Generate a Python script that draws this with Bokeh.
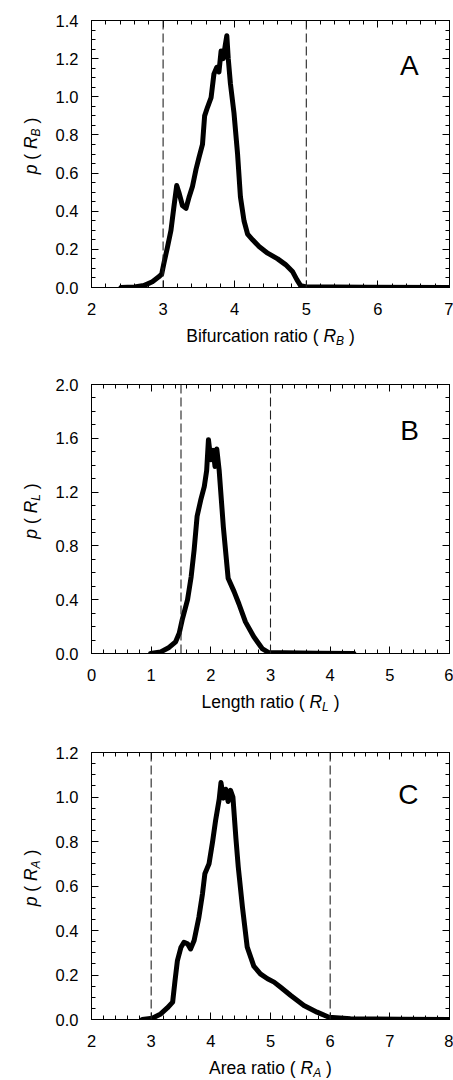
import numpy as np
from bokeh.plotting import figure
from bokeh.layouts import column, row
from bokeh.models import (Range1d, LinearAxis, FixedTicker, PrintfTickFormatter,
                          CustomJSTickFormatter, Span, Label)
from bokeh.core.properties import value
from bokeh.embed import file_html
from bokeh.resources import INLINE

FONT = "Liberation Sans"

# ---------------- data ----------------
# Panel A: bifurcation ratio
rb_x = [2.41, 2.60, 2.73, 2.85, 2.94, 2.98, 3.01, 3.06, 3.11, 3.15, 3.19, 3.22, 3.27, 3.32,
        3.36, 3.41, 3.46, 3.50, 3.55, 3.58, 3.62, 3.67, 3.71, 3.75, 3.78, 3.81, 3.84, 3.87,
        3.89, 3.91, 3.94, 3.99, 4.04, 4.08, 4.13, 4.18, 4.25, 4.34, 4.46, 4.60, 4.71, 4.81,
        4.87, 4.92, 4.99, 5.39, 5.85, 7.00]
rb_p = [0.0, 0.003, 0.01, 0.03, 0.056, 0.07, 0.125, 0.21, 0.30, 0.42, 0.535, 0.50, 0.43, 0.415,
        0.47, 0.53, 0.62, 0.68, 0.75, 0.90, 0.945, 0.995, 1.12, 1.155, 1.13, 1.24, 1.20, 1.275,
        1.32, 1.20, 1.07, 0.915, 0.70, 0.475, 0.35, 0.28, 0.25, 0.215, 0.18, 0.15, 0.12, 0.082,
        0.04, 0.01, 0.004, 0.003, 0.0015, 0.0]
rb_bounds = [3, 5]
rb_xticks = [2, 3, 4, 5, 6, 7]
rb_yticks = [0.0, 0.2, 0.4, 0.6, 0.8, 1.0, 1.2, 1.4]

# Panel B: length ratio
rl_x = [0.99, 1.16, 1.30, 1.41, 1.47, 1.52, 1.61, 1.67, 1.72, 1.77, 1.83, 1.89, 1.93, 1.96,
        2.00, 2.04, 2.07, 2.10, 2.14, 2.21, 2.29, 2.39, 2.47, 2.58, 2.72, 2.86, 2.97, 3.23,
        3.78, 4.40]
rl_p = [0.0, 0.012, 0.045, 0.087, 0.15, 0.25, 0.40, 0.57, 0.77, 1.02, 1.14, 1.24, 1.36, 1.59,
        1.44, 1.51, 1.39, 1.52, 1.36, 0.94, 0.56, 0.46, 0.37, 0.235, 0.124, 0.037, 0.007, 0.005,
        0.002, 0.0]
rl_bounds = [1.5, 3]
rl_xticks = [0, 1, 2, 3, 4, 5, 6]
rl_yticks = [0.0, 0.4, 0.8, 1.2, 1.6, 2.0]

# Panel C: area ratio
ra_x = [2.85, 3.02, 3.16, 3.27, 3.36, 3.40, 3.44, 3.50, 3.55, 3.61, 3.66, 3.72, 3.80, 3.86,
        3.90, 3.97, 4.03, 4.08, 4.14, 4.17, 4.21, 4.25, 4.29, 4.33, 4.37, 4.42, 4.46, 4.53,
        4.61, 4.72, 4.83, 4.95, 5.06, 5.17, 5.34, 5.56, 5.78, 5.98, 6.34, 7.18, 8.00]
ra_p = [0.0, 0.006, 0.025, 0.052, 0.078, 0.175, 0.265, 0.325, 0.347, 0.34, 0.317, 0.355, 0.46,
        0.565, 0.655, 0.70, 0.80, 0.895, 0.99, 1.065, 0.995, 1.035, 0.98, 1.03, 1.0, 0.815,
        0.685, 0.505, 0.325, 0.24, 0.205, 0.183, 0.168, 0.145, 0.108, 0.063, 0.033, 0.01,
        0.003, 0.0015, 0.0]
ra_bounds = [3, 6]
ra_xticks = [2, 3, 4, 5, 6, 7, 8]
ra_yticks = [0.0, 0.2, 0.4, 0.6, 0.8, 1.0, 1.2]

# ---------------- helpers ----------------
ARIAL_W = {' ': 278, '(': 333, ')': 333, 'A': 667, 'B': 667, 'L': 556, 'R': 722,
           'a': 556, 'b': 556, 'c': 500, 'e': 556, 'f': 278, 'g': 556, 'h': 556,
           'i': 222, 'n': 556, 'o': 556, 'r': 333, 't': 278, 'u': 556, 'p': 556}
S, SS = 17.5, 12.0          # title font size, subscript size
YW = 52                     # width of the y-title strip
MAIN_W = 453 - YW
FRAME_L, FRAME_R = 91, 449  # frame edges on the page
BL = FRAME_L - YW           # left border of the main figure
BR = 453 - FRAME_R          # right border
FRAME_W = FRAME_R - FRAME_L
BOTTOM = 37


def tw(s, size):
    return sum(ARIAL_W.get(c, 556) for c in s) * size / 1000.0


def minor_list(lo, hi, step):
    return [float(v) for v in np.round(np.arange(lo, hi + step / 2, step), 4)]


def style_axis(ax, ticks, minor, fmt=None):
    ax.ticker = FixedTicker(ticks=ticks, minor_ticks=minor)
    ax.axis_line_color = "black"
    ax.axis_line_width = 1
    ax.major_tick_line_color = "black"
    ax.minor_tick_line_color = "black"
    ax.major_tick_line_width = 1
    ax.minor_tick_line_width = 1
    ax.major_tick_in = 7
    ax.major_tick_out = 0
    ax.minor_tick_in = 4
    ax.minor_tick_out = 0
    ax.axis_label = None
    if fmt is None:
        ax.formatter = CustomJSTickFormatter(code="return ''")
        ax.major_label_text_font_size = "1px"
        ax.major_label_standoff = 0
    else:
        ax.formatter = PrintfTickFormatter(format=fmt)
        ax.major_label_text_font = FONT
        ax.major_label_text_font_size = "16.5px"
        ax.major_label_text_color = "black"


def text_fig(w, h, xr, yr, bl=0, br=0, bt=0, bb=0):
    f = figure(width=w, height=h, x_range=Range1d(*xr), y_range=Range1d(*yr),
               toolbar_location=None, output_backend="svg",
               x_axis_location=None, y_axis_location=None,
               min_border_left=bl, min_border_right=br, min_border_top=bt,
               min_border_bottom=bb)
    f.outline_line_color = None
    f.background_fill_color = "white"
    f.border_fill_color = "white"
    f.xgrid.visible = False
    f.ygrid.visible = False
    return f


def put(f, txt, x, y, size, style, angle=0.0):
    f.text(x=[x], y=[y], text=[txt], angle=angle, text_font=value(FONT),
           text_font_size=value(f"{size}px"), text_font_style=value(style),
           text_align=value("left"), text_baseline=value("alphabetic"),
           text_color="black")


def make_panel(xs, ys, xlo, xhi, ylo, yhi, xticks, yticks, ystep, bounds,
               letter, letter_xy, xtitle, sub, main_h, top, xt_h):
    p = figure(width=MAIN_W, height=main_h, x_range=Range1d(xlo, xhi),
               y_range=Range1d(ylo, yhi), toolbar_location=None,
               output_backend="svg", min_border_left=BL, min_border_right=BR,
               min_border_top=top, min_border_bottom=BOTTOM)
    p.xgrid.visible = False
    p.ygrid.visible = False
    p.outline_line_color = "black"
    p.outline_line_width = 1
    p.background_fill_color = "white"
    p.border_fill_color = "white"

    xminor = minor_list(xlo, xhi, 0.2)
    yminor = minor_list(ylo, yhi, ystep)
    style_axis(p.below[0], xticks, xminor, "%d")
    p.below[0].major_label_standoff = 15
    style_axis(p.left[0], yticks, yminor, "%.1f")
    p.left[0].major_label_standoff = 13
    top_ax = LinearAxis()
    style_axis(top_ax, xticks, xminor)
    p.add_layout(top_ax, "above")
    right_ax = LinearAxis()
    style_axis(right_ax, yticks, yminor)
    p.add_layout(right_ax, "right")

    for b in bounds:
        p.add_layout(Span(location=b, dimension="height", line_color="#222222",
                          line_width=1.1, line_dash="9 4"))

    p.line(xs, ys, line_width=5, line_color="black", line_join="round",
           line_cap="round")

    p.add_layout(Label(x=letter_xy[0], y=letter_xy[1], text=letter, text_font=FONT,
                       text_font_size="28px", text_align="center",
                       text_baseline="alphabetic", text_color="black"))

    # ---- x-axis title strip: "<xtitle> ( R_sub )"; x in px from frame left
    xt = text_fig(MAIN_W, xt_h, (0, FRAME_W), (0, xt_h), bl=BL, br=BR)
    main = xtitle + " ("
    widths = [tw(main, S), tw(" ", S), tw("R", S), tw(sub, SS), tw(" ", S), tw(")", S)]
    total = sum(widths)
    x0 = FRAME_W / 2.0 - total / 2.0
    base = xt_h - 11
    put(xt, main, x0, base, S, "normal")
    put(xt, "R", x0 + sum(widths[:2]), base, S, "italic")
    put(xt, sub, x0 + sum(widths[:3]), base - 5, SS, "italic")
    put(xt, ")", x0 + sum(widths[:5]), base, S, "normal")

    # ---- y-axis title strip: "p ( R_sub )" rotated; y in px from strip bottom
    full_h = main_h + xt_h
    yt = text_fig(YW, full_h, (0, YW), (0, full_h - top), bt=top)
    ywidths = [tw("p", S), tw(" ", S), tw("(", S), tw(" ", S), tw("R", S),
               tw(sub, SS), tw(" ", S), tw(")", S)]
    ytotal = sum(ywidths)
    frame_h = main_h - top - BOTTOM
    ycenter_from_top = top + frame_h / 2.0 - 8
    ystart = full_h - ycenter_from_top - ytotal / 2.0
    xb = 30
    put(yt, "p", xb, ystart, S, "italic", np.pi / 2)
    put(yt, "(", xb, ystart + sum(ywidths[:2]), S, "normal", np.pi / 2)
    put(yt, "R", xb, ystart + sum(ywidths[:4]), S, "italic", np.pi / 2)
    put(yt, sub, xb + 5, ystart + sum(ywidths[:5]), SS, "italic", np.pi / 2)
    put(yt, ")", xb, ystart + sum(ywidths[:7]), S, "normal", np.pi / 2)

    return row(yt, column(p, xt, spacing=0), spacing=0)


pA = make_panel(rb_x, rb_p, 2, 7, 0.0, 1.4, rb_xticks, rb_yticks, 0.05, rb_bounds,
                "A", (6.44, 1.164), "Bifurcation ratio", "B", 324, 20, 38)
pB = make_panel(rl_x, rl_p, 0, 6, 0.0, 2.0, rl_xticks, rl_yticks, 0.1, rl_bounds,
                "B", (5.33, 1.658), "Length ratio", "L", 328, 22, 40)
pC = make_panel(ra_x, ra_p, 2, 8, 0.0, 1.2, ra_xticks, ra_yticks, 0.05, ra_bounds,
                "C", (7.31, 1.011), "Area ratio", "A", 326, 22, 24)

layout = column(pA, pB, pC, spacing=0)
open("out.html", "w").write(file_html(layout, INLINE))
